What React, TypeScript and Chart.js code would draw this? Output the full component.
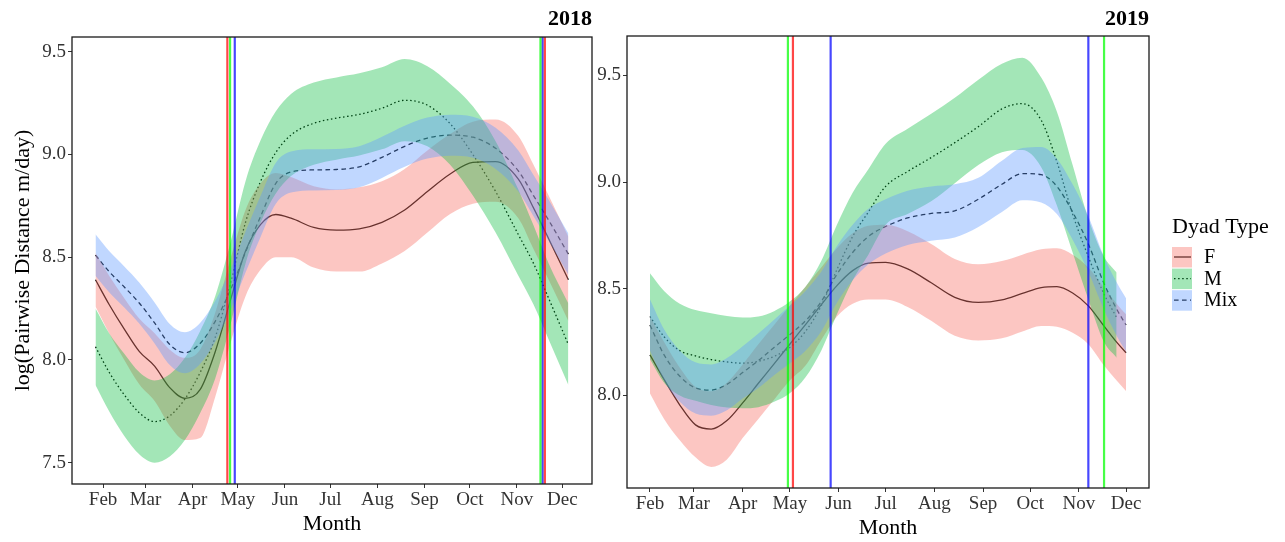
import React, { useEffect, useRef } from "react";
import { Chart, registerables } from "chart.js";

Chart.register(...registerables);

const FONT = "'Liberation Serif', 'Times New Roman', Times, serif";

// ---- categories / ticks ----
const MONTH_LABELS = ["Feb", "Mar", "Apr", "May", "Jun", "Jul", "Aug", "Sep", "Oct", "Nov", "Dec"];
const MONTH_DAYS = [31, 59, 90, 120, 151, 181, 212, 243, 273, 304, 334];
const SERIES_NAMES = ["F", "M", "Mix"];
const Y_TICKS_2018 = [7.5, 8.0, 8.5, 9.0, 9.5];
const Y_TICKS_2019 = [8.0, 8.5, 9.0, 9.5];

// ---- 2018 (day of year) ----
const DAYS_2018 = [26, 35, 45, 55, 65, 75, 85, 95, 105, 115, 125, 135, 145, 155, 170, 185, 200, 215, 230, 245, 260, 275, 290, 305, 315, 325, 338];
const F_2018 = [8.39, 8.27, 8.15, 8.04, 7.97, 7.865, 7.813, 7.855, 8.04, 8.29, 8.53, 8.66, 8.708, 8.69, 8.645, 8.632, 8.638, 8.67, 8.73, 8.82, 8.905, 8.962, 8.965, 8.88, 8.74, 8.59, 8.39];
const F_2018_HI = [8.52, 8.41, 8.30, 8.20, 8.13, 8.05, 8.01, 8.05, 8.23, 8.49, 8.73, 8.86, 8.91, 8.89, 8.845, 8.83, 8.84, 8.87, 8.93, 9.02, 9.10, 9.16, 9.17, 9.09, 8.95, 8.80, 8.60];
const F_2018_LO = [8.26, 8.13, 8.00, 7.88, 7.80, 7.68, 7.61, 7.62, 7.82, 8.08, 8.31, 8.44, 8.50, 8.50, 8.45, 8.43, 8.43, 8.47, 8.53, 8.62, 8.71, 8.76, 8.77, 8.69, 8.54, 8.39, 8.19];
const M_2018 = [8.064, 7.94, 7.83, 7.742, 7.70, 7.728, 7.81, 7.938, 8.11, 8.37, 8.67, 8.87, 9.01, 9.095, 9.152, 9.177, 9.195, 9.225, 9.264, 9.24, 9.15, 9.00, 8.82, 8.61, 8.47, 8.30, 8.075];
const M_2018_HI = [8.25, 8.13, 8.03, 7.94, 7.90, 7.93, 8.01, 8.14, 8.31, 8.57, 8.87, 9.07, 9.21, 9.295, 9.35, 9.375, 9.395, 9.425, 9.465, 9.43, 9.345, 9.235, 9.065, 8.83, 8.655, 8.47, 8.275];
const M_2018_LO = [7.878, 7.75, 7.63, 7.54, 7.50, 7.53, 7.61, 7.74, 7.91, 8.17, 8.47, 8.67, 8.81, 8.895, 8.95, 8.975, 8.995, 9.025, 9.065, 9.04, 8.95, 8.80, 8.62, 8.41, 8.27, 8.10, 7.878];
const MIX_2018 = [8.51, 8.43, 8.355, 8.276, 8.18, 8.075, 8.035, 8.08, 8.188, 8.34, 8.525, 8.70, 8.86, 8.915, 8.925, 8.927, 8.94, 8.986, 9.04, 9.08, 9.094, 9.084, 9.03, 8.92, 8.80, 8.68, 8.515];
const MIX_2018_HI = [8.612, 8.53, 8.455, 8.376, 8.28, 8.175, 8.135, 8.18, 8.288, 8.44, 8.625, 8.80, 8.96, 9.015, 9.025, 9.027, 9.04, 9.086, 9.14, 9.18, 9.194, 9.184, 9.13, 9.02, 8.90, 8.78, 8.615];
const MIX_2018_LO = [8.41, 8.33, 8.255, 8.176, 8.08, 7.975, 7.935, 7.98, 8.088, 8.24, 8.425, 8.60, 8.76, 8.815, 8.825, 8.827, 8.84, 8.886, 8.94, 8.98, 8.994, 8.984, 8.93, 8.82, 8.70, 8.58, 8.415];
const VL_2018_RED = [113.0, 322.5];
const VL_2018_GREEN = [114.8, 319.6];
const VL_2018_BLUE = [117.9, 321.0];

// ---- 2019 (day of year) ----
const DAYS_2019 = [31, 40, 50, 60, 70, 80, 90, 100, 110, 120, 130, 140, 150, 160, 170, 181, 195, 210, 225, 240, 255, 268, 280, 290, 300, 310, 320, 328, 334];
const F_2019 = [8.19, 8.075, 7.955, 7.862, 7.842, 7.882, 7.965, 8.057, 8.148, 8.24, 8.332, 8.425, 8.515, 8.585, 8.62, 8.624, 8.593, 8.528, 8.46, 8.436, 8.448, 8.478, 8.505, 8.51, 8.48, 8.42, 8.325, 8.25, 8.20];
const F_2019_HI = [8.37, 8.25, 8.13, 8.04, 8.02, 8.06, 8.145, 8.24, 8.33, 8.42, 8.51, 8.60, 8.69, 8.76, 8.795, 8.80, 8.77, 8.71, 8.64, 8.615, 8.63, 8.66, 8.685, 8.69, 8.66, 8.60, 8.505, 8.43, 8.38];
const F_2019_LO = [8.01, 7.89, 7.79, 7.71, 7.665, 7.70, 7.80, 7.89, 7.98, 8.07, 8.14, 8.26, 8.37, 8.43, 8.45, 8.45, 8.415, 8.35, 8.28, 8.258, 8.268, 8.30, 8.326, 8.322, 8.294, 8.24, 8.14, 8.07, 8.02];
const M_2019 = [8.37, 8.275, 8.21, 8.185, 8.168, 8.157, 8.151, 8.16, 8.183, 8.225, 8.30, 8.42, 8.59, 8.745, 8.86, 8.98, 9.05, 9.115, 9.185, 9.26, 9.343, 9.368, 9.29, 9.095, 8.85, 8.65, 8.475, 8.365];
const M_2019_HI = [8.573, 8.49, 8.43, 8.40, 8.385, 8.372, 8.365, 8.37, 8.395, 8.44, 8.51, 8.63, 8.80, 8.95, 9.06, 9.18, 9.25, 9.32, 9.395, 9.48, 9.555, 9.583, 9.49, 9.33, 9.08, 8.83, 8.65, 8.576];
const M_2019_LO = [8.17, 8.06, 8.00, 7.975, 7.955, 7.943, 7.94, 7.945, 7.97, 8.01, 8.085, 8.21, 8.38, 8.54, 8.66, 8.80, 8.85, 8.91, 8.995, 9.08, 9.14, 9.15, 9.07, 8.89, 8.67, 8.45, 8.25, 8.177];
const MIX_2019 = [8.33, 8.19, 8.09, 8.035, 8.025, 8.052, 8.107, 8.163, 8.225, 8.285, 8.35, 8.44, 8.568, 8.67, 8.745, 8.792, 8.832, 8.853, 8.865, 8.92, 8.99, 9.04, 9.035, 8.98, 8.86, 8.71, 8.524, 8.405, 8.33];
const MIX_2019_HI = [8.45, 8.31, 8.21, 8.155, 8.145, 8.175, 8.23, 8.29, 8.355, 8.42, 8.49, 8.58, 8.70, 8.80, 8.875, 8.92, 8.96, 8.98, 8.99, 9.02, 9.10, 9.16, 9.165, 9.11, 8.99, 8.84, 8.65, 8.53, 8.455];
const MIX_2019_LO = [8.21, 8.07, 7.97, 7.915, 7.905, 7.93, 7.985, 8.035, 8.095, 8.15, 8.21, 8.30, 8.435, 8.54, 8.615, 8.665, 8.705, 8.725, 8.74, 8.79, 8.86, 8.915, 8.905, 8.85, 8.73, 8.58, 8.40, 8.28, 8.205];
const VL_2019_RED = [122.0];
const VL_2019_GREEN = [118.8, 320.0];
const VL_2019_BLUE = [146.0, 310.0];

// ---- styles ----
const FILL_COLORS = ["rgba(248,118,109,0.42)", "rgba(0,186,56,0.36)", "rgba(97,156,255,0.40)"];
const LINE_DASHES = [[], [1.5, 2.6], [4.6, 3.4]];
const VL_RED = "rgba(255,0,0,0.72)";
const VL_GREEN = "rgba(0,255,0,0.72)";
const VL_BLUE = "rgba(0,0,255,0.72)";

const pts = (days: number[], vals: number[]) => vals.map((v, i) => ({ x: days[i], y: v }));

function buildConfig(p: any) {
  const datasets: any[] = [];
  // black lines (drawn first, under the translucent ribbons)
  p.lines.forEach((vals: number[], s: number) => {
    datasets.push({
      label: SERIES_NAMES[s],
      data: pts(p.days, vals),
      borderColor: "#000",
      borderWidth: 1.3,
      borderDash: LINE_DASHES[s],
      pointRadius: 0,
      fill: false,
      cubicInterpolationMode: "monotone",
      order: 20,
    });
  });
  // ribbons
  p.lines.forEach((_: number[], s: number) => {
    datasets.push({
      label: SERIES_NAMES[s] + " lo",
      data: pts(p.days, p.lo[s]),
      borderWidth: 0,
      borderColor: "rgba(0,0,0,0)",
      pointRadius: 0,
      fill: false,
      cubicInterpolationMode: "monotone",
      order: 15 - s,
    });
    datasets.push({
      label: SERIES_NAMES[s] + " hi",
      data: pts(p.days, p.hi[s]),
      borderWidth: 0,
      borderColor: "rgba(0,0,0,0)",
      backgroundColor: FILL_COLORS[s],
      pointRadius: 0,
      fill: "-1",
      cubicInterpolationMode: "monotone",
      order: 15 - s,
    });
  });
  // vertical lines
  p.vlines.forEach((g: any) => {
    g.days.forEach((d: number) => {
      datasets.push({
        label: "vline",
        data: [
          { x: d, y: p.yMin },
          { x: d, y: p.yMax },
        ],
        borderColor: g.color,
        borderWidth: 2.2,
        pointRadius: 0,
        fill: false,
        order: g.order,
      });
    });
  });

  const framePlugin = {
    id: "frame",
    afterDraw(chart: any) {
      const { ctx, chartArea: a } = chart;
      ctx.save();
      ctx.strokeStyle = "#1a1a1a";
      ctx.lineWidth = 1.3;
      ctx.strokeRect(a.left, a.top, a.right - a.left, a.bottom - a.top);
      ctx.fillStyle = "#000";
      ctx.font = `bold 22px ${FONT}`;
      ctx.textAlign = "right";
      ctx.textBaseline = "middle";
      ctx.fillText(p.title, a.right, 19);
      if (p.legend) {
        const lx = p.legend.x;
        ctx.textAlign = "left";
        ctx.font = `22px ${FONT}`;
        ctx.fillText("Dyad Type", lx, p.legend.titleY);
        ctx.font = `20px ${FONT}`;
        SERIES_NAMES.forEach((name, s) => {
          const ky = p.legend.keyY + s * 21.6;
          ctx.save();
          ctx.strokeStyle = "#000";
          ctx.lineWidth = 1.3;
          ctx.setLineDash(LINE_DASHES[s]);
          ctx.beginPath();
          ctx.moveTo(lx + 2, ky + 10);
          ctx.lineTo(lx + 19, ky + 10);
          ctx.stroke();
          ctx.restore();
          ctx.fillStyle = FILL_COLORS[s];
          ctx.fillRect(lx, ky, 20, 20.5);
          ctx.fillStyle = "#000";
          ctx.fillText(name, lx + 32, ky + 11);
        });
      }
      ctx.restore();
    },
  };

  const tickFont = { family: FONT, size: 19 };
  const titleFont = { family: FONT, size: 22 };

  return {
    type: "line",
    data: { datasets },
    plugins: [framePlugin],
    options: {
      responsive: false,
      animation: false,
      devicePixelRatio: 1,
      events: [],
      layout: { padding: { left: 0, right: p.padRight, top: p.padTop, bottom: 0 } },
      plugins: { legend: { display: false }, tooltip: { enabled: false }, title: { display: false } },
      scales: {
        x: {
          type: "linear",
          min: p.xMin,
          max: p.xMax,
          afterBuildTicks: (s: any) => {
            s.ticks = MONTH_DAYS.map((v) => ({ value: v }));
          },
          afterFit: (s: any) => {
            s.height = p.xHeight;
          },
          ticks: {
            autoSkip: false,
            maxRotation: 0,
            padding: 1,
            color: "#333",
            font: tickFont,
            callback: (v: number) => {
              const i = MONTH_DAYS.indexOf(v);
              return i >= 0 ? MONTH_LABELS[i] : "";
            },
          },
          grid: { display: true, drawOnChartArea: false, drawTicks: true, tickLength: 4, color: "#333", lineWidth: 1 },
          border: { display: false },
          title: { display: true, text: "Month", color: "#000", font: titleFont, padding: { top: 0, bottom: p.xTitlePad } },
        },
        y: {
          type: "linear",
          min: p.yMin,
          max: p.yMax,
          afterBuildTicks: (s: any) => {
            s.ticks = p.yTicks.map((v: number) => ({ value: v }));
          },
          afterFit: (s: any) => {
            s.width = p.yWidth;
          },
          ticks: {
            padding: 2,
            color: "#333",
            font: tickFont,
            callback: (v: number) => Number(v).toFixed(1),
          },
          grid: { display: true, drawOnChartArea: false, drawTicks: true, tickLength: 4, color: "#333", lineWidth: 1 },
          border: { display: false },
          title: {
            display: p.yTitle,
            text: "log(Pairwise Distance m/day)",
            color: "#000",
            font: titleFont,
            padding: { top: 10, bottom: 0 },
          },
        },
      },
    },
  };
}

const PANEL_2018 = {
  title: "2018",
  days: DAYS_2018,
  lines: [F_2018, M_2018, MIX_2018],
  hi: [F_2018_HI, M_2018_HI, MIX_2018_HI],
  lo: [F_2018_LO, M_2018_LO, MIX_2018_LO],
  vlines: [
    { days: VL_2018_BLUE, color: VL_BLUE, order: 3 },
    { days: VL_2018_GREEN, color: VL_GREEN, order: 2 },
    { days: VL_2018_RED, color: VL_RED, order: 1 },
  ],
  xMin: 10.5,
  xMax: 353.6,
  yMin: 7.396,
  yMax: 9.572,
  yTicks: Y_TICKS_2018,
  yTitle: true,
  padRight: 3,
  padTop: 37,
  xHeight: 58,
  yWidth: 72,
  xTitlePad: 5,
  legend: null,
};

const PANEL_2019 = {
  title: "2019",
  days: DAYS_2019,
  lines: [F_2019, M_2019, MIX_2019],
  hi: [F_2019_HI, M_2019_HI, MIX_2019_HI],
  lo: [F_2019_LO, M_2019_LO, MIX_2019_LO],
  vlines: [
    { days: VL_2019_BLUE, color: VL_BLUE, order: 3 },
    { days: VL_2019_GREEN, color: VL_GREEN, order: 2 },
    { days: VL_2019_RED, color: VL_RED, order: 1 },
  ],
  xMin: 16.4,
  xMax: 348.6,
  yMin: 7.566,
  yMax: 9.685,
  yTicks: Y_TICKS_2019,
  yTitle: false,
  padRight: 136,
  padTop: 36,
  xHeight: 54,
  yWidth: 32,
  xTitlePad: 1,
  legend: { x: 577, titleY: 227, keyY: 247 },
};

function Panel({ panel, left, width }: { panel: any; left: number; width: number }) {
  const ref = useRef<HTMLCanvasElement | null>(null);
  useEffect(() => {
    if (!ref.current) return;
    const chart = new Chart(ref.current, buildConfig(panel) as any);
    return () => chart.destroy();
  }, [panel]);
  return (
    <canvas
      ref={ref}
      width={width}
      height={542}
      style={{ position: "absolute", left, top: 0, width, height: 542 }}
    />
  );
}

export default function App() {
  return (
    <div style={{ position: "fixed", left: 0, top: 0, width: 1285, height: 542, background: "#fff", overflow: "hidden" }}>
      <Panel panel={PANEL_2018} left={0} width={595} />
      <Panel panel={PANEL_2019} left={595} width={690} />
    </div>
  );
}
